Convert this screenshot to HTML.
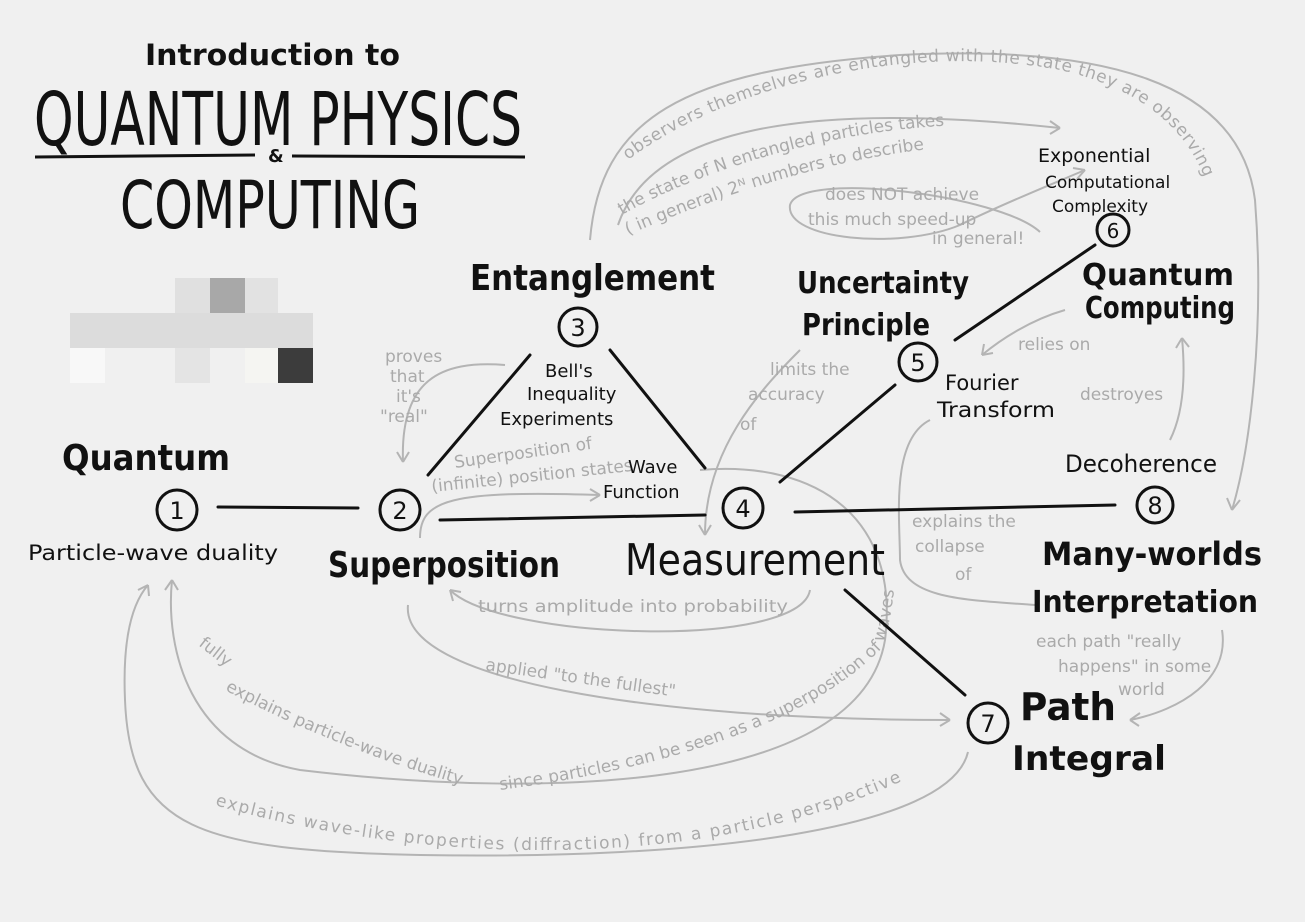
<!DOCTYPE html>
<html><head><meta charset="utf-8"><style>
body{margin:0;background:#f0f0f0;}
svg{display:block;}
text{font-family:"DejaVu Sans","Liberation Sans",sans-serif;}
.g{fill:#aaa;font-size:17px;}
.k{fill:#111;}
</style></head><body>
<svg width="1305" height="922" viewBox="0 0 1305 922" xmlns="http://www.w3.org/2000/svg">
<defs>
<path id="p1" d="M628 160 C720 90 900 40 1060 70 C1150 90 1200 140 1212 205"/>
<path id="p2" d="M622 215 C700 170 850 120 1005 125"/>
<path id="p3" d="M628 235 C720 195 860 145 1000 145"/>
<path id="p4" d="M500 790 C650 770 800 730 880 650 C890 630 893 600 895 580"/>
<path id="p5" d="M215 805 C300 830 420 850 540 850 C700 850 820 820 915 775"/>
<path id="p6" d="M225 690 C300 730 400 770 500 795"/>
</defs>
<rect width="1305" height="922" fill="#f0f0f0"/>
<!-- title -->
<text x="145" y="65" class="k" font-size="29" font-weight="bold" textLength="255" lengthAdjust="spacingAndGlyphs">Introduction to</text>
<text x="34" y="145" class="k" font-size="74" textLength="488" lengthAdjust="spacingAndGlyphs">QUANTUM PHYSICS</text>
<line x1="35" y1="157" x2="255" y2="155" stroke="#111" stroke-width="3"/>
<line x1="292" y1="156" x2="525" y2="157" stroke="#111" stroke-width="3"/>
<text x="268" y="162" class="k" font-size="18" font-weight="bold">&amp;</text>
<text x="120" y="228" class="k" font-size="66" textLength="300" lengthAdjust="spacingAndGlyphs">COMPUTING</text>
<!-- pixel block -->
<rect x="175" y="278" width="35" height="35" fill="#e0e0e0"/>
<rect x="210" y="278" width="35" height="35" fill="#a8a8a8"/>
<rect x="245" y="278" width="33" height="35" fill="#e2e2e2"/>
<rect x="70" y="313" width="243" height="35" fill="#dcdcdc"/>
<rect x="70" y="348" width="35" height="35" fill="#f8f8f8"/>
<rect x="175" y="348" width="35" height="35" fill="#e4e4e4"/>
<rect x="245" y="348" width="33" height="35" fill="#f5f5f2"/>
<rect x="278" y="348" width="35" height="35" fill="#3c3c3c"/>

<!-- gray curves -->
<g fill="none" stroke="#b4b4b4" stroke-width="2">
<path d="M590 240 C600 120 680 70 900 55 C1100 45 1240 80 1255 200 C1265 330 1250 450 1232 510"/>
<path d="M1232 510 l-5 -12 M1232 510 l8 -10"/>
<path d="M618 225 C650 130 800 100 1060 128"/>
<path d="M1060 128 l-10 -7 M1060 128 l-10 6"/>
<path d="M1040 232 C1000 195 800 170 790 205 C785 240 900 250 960 225 C1000 205 1050 185 1085 170"/>
<path d="M1085 170 l-12 -2 M1085 170 l-8 9"/>
<path d="M505 365 C440 360 400 380 403 462"/>
<path d="M403 462 l-6 -10 M403 462 l6 -10"/>
<path d="M420 538 C420 500 450 490 600 495"/>
<path d="M600 495 l-10 -6 M600 495 l-10 6"/>
<path d="M800 350 C760 390 705 450 705 535"/>
<path d="M705 535 l-6 -10 M705 535 l6 -10"/>
<path d="M1065 310 C1030 320 1000 340 982 355"/>
<path d="M982 355 l2 -11 M982 355 l11 -2"/>
<path d="M1170 440 C1185 410 1185 370 1182 338"/>
<path d="M1182 338 l-6 10 M1182 338 l7 9"/>
<path d="M930 420 C890 440 900 520 900 560 C905 600 970 600 1035 605"/>
<path d="M810 590 C800 650 500 640 450 590"/>
<path d="M450 590 l3 11 M450 590 l11 2"/>
<path d="M408 605 C400 680 650 720 950 720"/>
<path d="M950 720 l-10 -7 M950 720 l-10 6"/>
<path d="M1222 630 C1230 680 1180 710 1130 720"/>
<path d="M1130 720 l10 -7 M1130 720 l9 6"/>
<path d="M700 470 C820 460 900 520 885 640 C860 790 550 800 300 770 C190 750 165 650 172 580"/>
<path d="M172 580 l-7 10 M172 580 l6 10"/>
<path d="M968 752 C950 830 700 860 420 855 C200 850 130 830 125 700 C122 630 135 600 148 585"/>
<path d="M148 585 l-10 5 M148 585 l1 11"/>
</g>
<!-- gray text -->
<text class="g" font-size="16"><textPath href="#p1" textLength="640" lengthAdjust="spacing">observers themselves are entangled with the state they are observing</textPath></text>
<text class="g" font-size="18"><textPath href="#p2">the state of N entangled particles takes</textPath></text>
<text class="g" font-size="17"><textPath href="#p3">( in general) 2ᴺ numbers to describe</textPath></text>
<text class="g" x="825" y="200" font-size="18">does NOT achieve</text>
<text class="g" x="808" y="225" font-size="18">this much speed-up</text>
<text class="g" x="932" y="244" font-size="18">in general!</text>
<text class="g" x="385" y="362">proves</text><text class="g" x="390" y="382">that</text><text class="g" x="396" y="402">it's</text><text class="g" x="380" y="422">"real"</text>
<text class="g" transform="translate(455 468) rotate(-8)" font-size="14">Superposition of</text>
<text class="g" transform="translate(432 492) rotate(-6)" font-size="15">(infinite) position states</text>
<text class="g" x="770" y="375" font-size="18">limits the</text>
<text class="g" x="748" y="400" font-size="18">accuracy</text>
<text class="g" x="740" y="430" font-size="18">of</text>
<text class="g" x="1018" y="350">relies on</text>
<text class="g" x="1080" y="400" font-size="18">destroyes</text>
<text class="g" x="912" y="527" font-size="18">explains the</text>
<text class="g" x="915" y="552" font-size="18">collapse</text>
<text class="g" x="955" y="580" font-size="18">of</text>
<text class="g" x="478" y="612" font-size="20" textLength="310" lengthAdjust="spacingAndGlyphs">turns amplitude into probability</text>
<text class="g" transform="translate(485 670) rotate(8)" font-size="20">applied "to the fullest"</text>
<text class="g" x="1036" y="647" font-size="17">each path "really</text>
<text class="g" x="1058" y="672" font-size="17">happens" in some</text>
<text class="g" x="1118" y="695" font-size="17">world</text>
<text class="g" transform="translate(198 645) rotate(38)" font-size="17">fully</text>
<text class="g" font-size="17"><textPath href="#p6">explains particle-wave duality</textPath></text>
<text class="g" font-size="16"><textPath href="#p4">since particles can be seen as a superposition of waves</textPath></text>
<text class="g" font-size="18"><textPath href="#p5" textLength="700" lengthAdjust="spacing">explains wave-like properties (diffraction) from a particle perspective</textPath></text>

<!-- black lines -->
<g stroke="#111" stroke-width="3" fill="none" stroke-linecap="round">
<line x1="218" y1="507" x2="358" y2="508"/>
<line x1="440" y1="520" x2="705" y2="515"/>
<line x1="428" y1="475" x2="530" y2="355"/>
<line x1="610" y1="350" x2="705" y2="468"/>
<line x1="780" y1="482" x2="895" y2="385"/>
<line x1="955" y1="340" x2="1095" y2="245"/>
<line x1="795" y1="512" x2="1115" y2="505"/>
<line x1="845" y1="590" x2="965" y2="695"/>
</g>
<!-- nodes -->
<g stroke="#111" stroke-width="3" fill="none">
<circle cx="177" cy="510" r="20"/><circle cx="400" cy="510" r="20"/><circle cx="578" cy="327" r="19"/>
<circle cx="743" cy="508" r="20"/><circle cx="918" cy="362" r="19"/><circle cx="1113" cy="230" r="16"/>
<circle cx="988" cy="723" r="20"/><circle cx="1155" cy="505" r="18"/>
</g>
<g class="k" font-size="24" text-anchor="middle">
<text x="177" y="519">1</text><text x="400" y="519">2</text><text x="578" y="336">3</text><text x="743" y="517">4</text>
<text x="918" y="371">5</text><text x="1113" y="238" font-size="20">6</text><text x="988" y="732">7</text><text x="1155" y="514">8</text>
</g>
<!-- black labels -->
<g class="k" font-weight="bold" lengthAdjust="spacingAndGlyphs">
<text x="62" y="470" font-size="36" textLength="168" lengthAdjust="spacingAndGlyphs">Quantum</text>
<text x="28" y="560" font-size="21" font-weight="normal" textLength="250" lengthAdjust="spacingAndGlyphs">Particle-wave duality</text>
<text x="328" y="577" font-size="36" textLength="232" lengthAdjust="spacingAndGlyphs">Superposition</text>
<text x="470" y="290" font-size="36" textLength="245" lengthAdjust="spacingAndGlyphs">Entanglement</text>
<text x="545" y="377" font-size="18" font-weight="normal">Bell's</text>
<text x="527" y="400" font-size="18" font-weight="normal">Inequality</text>
<text x="500" y="425" font-size="18" font-weight="normal">Experiments</text>
<text x="628" y="473" font-size="18" font-weight="normal">Wave</text>
<text x="603" y="498" font-size="18" font-weight="normal">Function</text>
<text x="625" y="575" font-size="44" font-weight="normal" textLength="260" lengthAdjust="spacingAndGlyphs">Measurement</text>
<text x="797" y="293" font-size="30" textLength="172" lengthAdjust="spacingAndGlyphs">Uncertainty</text>
<text x="802" y="335" font-size="30" textLength="128" lengthAdjust="spacingAndGlyphs">Principle</text>
<text x="945" y="390" font-size="21" font-weight="normal">Fourier</text>
<text x="937" y="417" font-size="21" font-weight="normal" textLength="118" lengthAdjust="spacingAndGlyphs">Transform</text>
<text x="1038" y="162" font-size="19" font-weight="normal">Exponential</text>
<text x="1045" y="188" font-size="17" font-weight="normal">Computational</text>
<text x="1052" y="212" font-size="17" font-weight="normal">Complexity</text>
<text x="1082" y="285" font-size="30" textLength="152" lengthAdjust="spacingAndGlyphs">Quantum</text>
<text x="1085" y="318" font-size="30" textLength="150" lengthAdjust="spacingAndGlyphs">Computing</text>
<text x="1065" y="472" font-size="24" font-weight="normal" textLength="152" lengthAdjust="spacingAndGlyphs">Decoherence</text>
<text x="1042" y="565" font-size="32" textLength="220" lengthAdjust="spacingAndGlyphs">Many-worlds</text>
<text x="1032" y="612" font-size="30" textLength="226" lengthAdjust="spacingAndGlyphs">Interpretation</text>
<text x="1020" y="720" font-size="38" textLength="96" lengthAdjust="spacingAndGlyphs">Path</text>
<text x="1012" y="770" font-size="34" textLength="154" lengthAdjust="spacingAndGlyphs">Integral</text>
</g>
</svg>
</body></html>
